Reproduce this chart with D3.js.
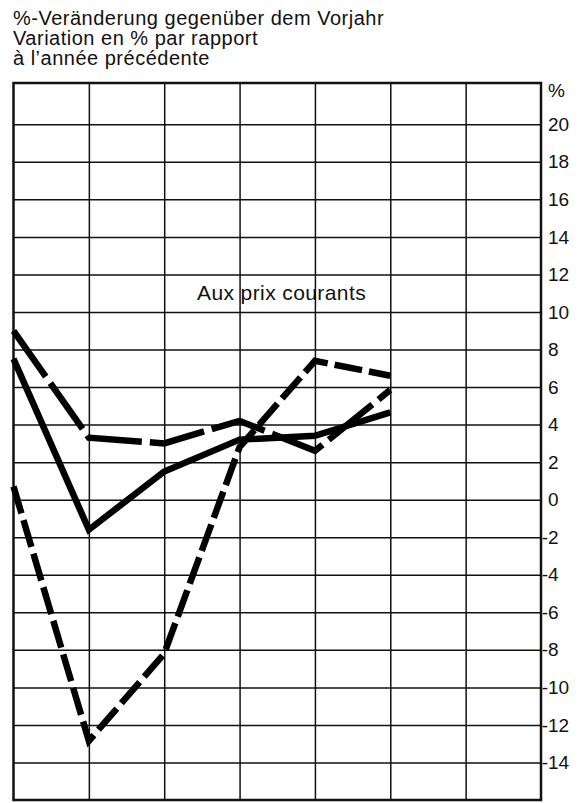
<!DOCTYPE html>
<html>
<head>
<meta charset="utf-8">
<script src="https://cdn.jsdelivr.net/npm/d3@7"></script>
<style>
  html, body { margin: 0; padding: 0; background: #fff; }
  svg { display: block; font-family: "Liberation Sans", Arial, sans-serif; }
  .grid line { stroke: #111; stroke-width: 1.5; }
  .grid .domain { display: none; }
  .ylab .domain { display: none; }
  .ylab text { font-size: 19px; fill: #111; }
</style>
</head>
<body>
<svg id="chart"></svg>
<script>
// chart.js — year-on-year % change, three series, "Aux prix courants"

const W = 586, H = 803;

// data (x = column index, no year labels printed)
const steps = [0, 1, 2, 3, 4, 5];
const seriesSolid = [7.5, -1.6, 1.5, 3.2, 3.4, 4.65];
const seriesLongDash = [9.0, 3.3, 3.0, 4.2, 2.6, 5.85];
const seriesDash = [0.7, -12.85, -8.2, 2.8, 7.4, 6.6];
const yTicks = [20, 18, 16, 14, 12, 10, 8, 6, 4, 2, 0, -2, -4, -6, -8, -10, -12, -14];
const titleLines = [
  '%-Veränderung gegenüber dem Vorjahr',
  'Variation en % par rapport',
  'à l\u2019année  précédente'
];
const noteText = 'Aux prix courants';

const plot = { left: 13.5, right: 541, top: 83, bottom: 800 };

const svg = d3.select('#chart').attr('width', W).attr('height', H);

const x = d3.scaleLinear().domain([0, 7]).range([plot.left, plot.right]);
const y = d3.scaleLinear().domain([-16, 22.2]).range([plot.bottom, plot.top]);

// title
svg.append('g').selectAll('text')
  .data(titleLines)
  .join('text')
  .attr('x', 13)
  .attr('y', (d, i) => 25 + i * 20)
  .attr('font-size', 20)
  .attr('letter-spacing', 0.5)
  .attr('fill', '#111')
  .text(d => d);

// horizontal grid
svg.append('g')
  .attr('class', 'grid')
  .attr('transform', `translate(${plot.right},0)`)
  .call(d3.axisRight(y).tickValues(yTicks).tickSize(-(plot.right - plot.left)).tickFormat(''));

// vertical grid
svg.append('g')
  .attr('class', 'grid')
  .attr('transform', `translate(0,${plot.bottom})`)
  .call(d3.axisBottom(x).tickValues([1, 2, 3, 4, 5, 6]).tickSize(-(plot.bottom - plot.top)).tickFormat(''));

// frame
svg.append('rect')
  .attr('x', plot.left).attr('y', plot.top)
  .attr('width', plot.right - plot.left).attr('height', plot.bottom - plot.top)
  .attr('fill', 'none').attr('stroke', '#111').attr('stroke-width', 2.5);

// y labels on the right
const yAxis = svg.append('g')
  .attr('class', 'ylab')
  .attr('transform', `translate(${plot.right},0)`)
  .call(d3.axisRight(y).tickValues(yTicks).tickSize(0).tickPadding(7).tickFormat(d => d < 0 ? '-' + Math.abs(d) : d));
// minus sign hangs left, digits stay aligned
yAxis.selectAll('text')
  .attr('dx', d => d < 0 ? -6.3 : 0);

svg.append('text')
  .attr('x', plot.right + 7)
  .attr('y', y(21.8))
  .attr('dy', '0.32em')
  .attr('font-size', 19)
  .attr('fill', '#111')
  .text('%');

// note
svg.append('text')
  .attr('x', 197)
  .attr('y', 300)
  .attr('font-size', 21)
  .attr('letter-spacing', 0.4)
  .attr('fill', '#111')
  .text(noteText);

// lines
const line = d3.line()
  .x((d, i) => x(steps[i]))
  .y(d => y(d));

function drawSeries(vals, dash) {
  svg.append('path')
    .datum(vals)
    .attr('d', line)
    .attr('fill', 'none')
    .attr('stroke', '#000')
    .attr('stroke-width', 6.5)
    .attr('stroke-linejoin', 'miter')
    .attr('stroke-dasharray', dash);
}

drawSeries(seriesSolid, null);
drawSeries(seriesLongDash, '56 8');
drawSeries(seriesDash, '28 7');
</script>
</body>
</html>
